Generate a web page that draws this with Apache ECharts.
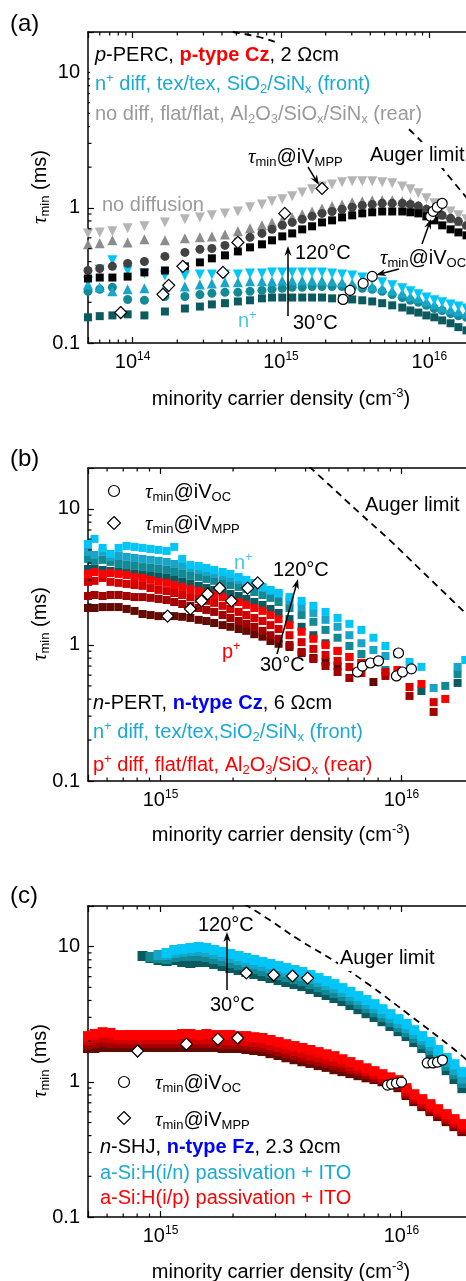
<!DOCTYPE html>
<html><head><meta charset="utf-8">
<script src="https://cdn.jsdelivr.net/npm/echarts@6/dist/echarts.min.js"></script>
<style>html,body{margin:0;padding:0;background:#fff}#c{width:466px;height:1281px}</style>
</head><body><div id="c"></div>
<script>
// ---------------- Panel (a): p-PERC ----------------
const aN = [5.0e13,6.0e13,7.3e13,9.25e13,1.2e14,1.65e14,2.25e14,2.84e14,3.42e14,4.19e14,
 5.12e14,6.18e14,7.44e14,8.7e14,1.02e15,1.19e15,1.39e15,1.62e15,1.89e15,2.21e15,
 2.58e15,3.02e15,3.53e15,4.12e15,4.81e15,5.62e15,6.57e15,7.45e15,8.43e15,9.55e15,
 1.08e16,1.22e16,1.39e16,1.57e16,1.78e16];
const aNoDiff120 = [0.647,0.658,0.67,0.705,0.73,0.78,0.822,0.85,0.88,0.91, 0.94,1.01,1.06,1.12,1.156,1.22,1.30,1.37,1.44,1.49, 1.545,1.57,1.57,1.57,1.545,1.52,1.44,1.37,1.28,1.18, 1.08,1.01,0.94,0.88,0.822];
const aNoDiff90 = [0.537,0.546,0.575,0.555,0.585,0.575,0.595,0.605,0.615,0.636, 0.67,0.705,0.742,0.78,0.808,0.85,0.895,0.94,0.99,1.03, 1.06,1.10,1.12,1.14,1.14,1.14,1.12,1.10,1.04,0.99, 0.94,0.895,0.836,0.795,0.755];
const aNoDiff60 = [0.344,0.356,0.369,0.388,0.401,0.437,0.468,0.493,0.50,0.527, 0.565,0.605,0.647,0.693,0.742,0.78,0.822,0.865,0.91,0.94, 0.975,1.01,1.04,1.06,1.08,1.08,1.08,1.06,1.03,0.975, 0.927,0.88,0.836,0.795,0.742];
const aNoDiff30 = [0.30,0.305,0.305,0.31,0.333,0.344,0.369,0.395,0.423,0.445, 0.476,0.51,0.537,0.575,0.615,0.647,0.693,0.73,0.78,0.808, 0.85,0.88,0.91,0.927,0.94,0.94,0.94,0.927,0.91,0.865, 0.808,0.742,0.693,0.658,0.626];
const aNplus120 = [0.286,0.35,0.41,0.344,0.327,0.316,0.316,0.321,0.321,0.321, 0.321,0.327,0.327,0.333,0.333,0.333,0.333,0.333,0.333,0.327, 0.321,0.316,0.305,0.295,0.281,0.267,0.254,0.241,0.229,0.217, 0.207,0.20,0.193,0.186,0.18];
const aNplus90 = [0.271,0.258,0.241,0.25,0.254,0.258,0.262,0.271,0.276,0.281, 0.281,0.286,0.286,0.286,0.29,0.29,0.29,0.29,0.29,0.286, 0.281,0.276,0.271,0.262,0.254,0.245,0.233,0.221,0.214,0.203, 0.193,0.183,0.177,0.171,0.166];
const aNplus60 = [0.241,0.25,0.258,0.21,0.207,0.221,0.221,0.228,0.233,0.237, 0.237,0.241,0.245,0.25,0.254,0.258,0.258,0.262,0.262,0.262, 0.262,0.258,0.254,0.25,0.241,0.228,0.217,0.207,0.20,0.19, 0.18,0.174,0.165,0.159,0.155];
const aNplus30 = [0.155,0.158,0.16,0.163,0.16,0.171,0.18,0.186,0.193,0.197, 0.203,0.207,0.214,0.217,0.217,0.217,0.217,0.217,0.217,0.214, 0.214,0.21,0.207,0.203,0.197,0.19,0.183,0.174,0.168,0.16, 0.155,0.147,0.14,0.131,0.124];
const aMppN = [8.3e13,1.6e14,1.75e14,2.18e14,4.06e14,5.12e14,1.06e15,1.89e15];
const aMppTau = [0.168,0.229,0.267,0.369,0.333,0.555,0.91,1.39];
const aOcN = [2.62e15,2.92e15,3.58e15,4.12e15,1.02e16,1.06e16,1.13e16,1.22e16];
const aOcTau = [0.21,0.245,0.276,0.311,0.865,0.942,1.01,1.08];
const aAugerN = [4.74e14,8.83e14,1.84e15,3.99e15,7.92e15,1.32e16,1.89e16];
const aAugerTau = [20,17.1,11.6,6.36,3.5,1.77,1.1];

// ---------------- Panel (b): n-PERT ----------------
const bN = [5.0e14,5.32e14,5.75e14,6.2e14,6.7e14,7.23e14,7.8e14,8.42e14,9.09e14,9.81e14,
 1.06e15,1.14e15,1.23e15,1.33e15,1.44e15,1.55e15,1.67e15,1.81e15,1.95e15,2.11e15,
 2.27e15,2.45e15,2.65e15,2.86e15,3.09e15,
 3.43e15,3.85e15,4.31e15,4.84e15,5.43e15,6.08e15,6.82e15,7.65e15,8.58e15,9.62e15,
 1.08e16,1.21e16,1.36e16,1.52e16,1.71e16,1.84e16];
const bNplus120 = [5.53,6.02,5.17,4.67,5.17,5.35,5.26,5.17,5.08,5.0, 4.91,5.26,4.29,3.87,3.81,3.68,3.56,3.44,3.33,3.16, 3.01,2.86,2.67,2.54,2.41, 2.25,2.11,1.94,1.75,1.58,1.43,1.29,1.13,0.983,0.858, 0.75,0.69,null,null,null,0.776];
const bNplus90 = [4.83,4.59,4.83,4.44,4.51,4.44,4.36,4.29,4.22,4.15, 4.08,3.94,3.81,3.68,3.56,3.44,3.33,3.22,3.11,3.01, 2.91,2.76,2.62,2.49,2.37, 2.11,1.90,1.72,1.53,1.36,1.18,1.03,0.919,0.83,null, null,null,0.483,null,0.69,null];
const bNplus60 = [4.29,4.15,4.22,4.08,3.94,3.87,3.81,3.74,3.68,3.62, 3.56,3.44,3.33,3.22,3.16,3.06,2.96,2.86,2.76,2.67, 2.58,2.45,2.33,2.22,2.07, 1.87,1.66,1.48,1.29,1.13,0.983,0.858,0.75,0.655,null, null,null,null,0.50,0.612,null];
const bNplus30 = [3.62,3.62,3.56,3.5,3.44,3.38,3.33,3.27,3.22,3.16, 3.11,3.01,2.91,2.81,2.72,2.62,2.54,2.45,2.37,2.29, 2.18,2.07,1.97,1.84,1.72, 1.55,1.36,1.18,1.03,0.904,0.816,0.738,null,null,null, null,0.459,null,null,0.526,null];
const bPplus120 = [3.33,3.44,3.33,3.38,3.33,3.27,3.16,3.11,3.01,2.91, 2.86,2.76,2.67,2.58,2.49,2.41,2.33,2.25,2.14,2.07, 1.97,1.87,1.78,1.66,1.55, 1.40,1.25,1.11,1.0,0.904,0.816,0.738,null,null,0.655, null,0.517,null,0.401,null,null];
const bPplus90 = [2.91,2.96,3.11,2.91,2.86,2.81,2.76,2.72,2.62,2.54, 2.49,2.41,2.33,2.25,2.18,2.11,2.04,1.94,1.84,1.75, 1.66,1.58,1.50,1.40,1.31, 1.18,1.05,0.935,0.844,0.763,0.689,0.622,null,0.633,null, 0.491,null,0.38,null,null,null];
const bPplus60 = [2.29,2.33,2.29,2.33,2.33,2.29,2.25,2.25,2.22,2.18, 2.14,2.07,2.0,1.94,1.87,1.81,1.75,1.66,1.58,1.50, 1.43,1.36,1.27,1.18,1.11, 1.0,0.889,0.789,0.701,0.633,0.572,null,null,0.592,null, 0.422,null,0.322,null,null,null];
const bPplus30 = [1.87,1.87,1.90,1.90,1.90,1.84,1.78,1.69,1.66,1.63, 1.63,1.63,1.61,1.58,1.53,1.50,1.45,1.40,1.36,1.31, 1.27,1.20,1.15,1.07,1.02, 0.967,0.873,0.803,0.75,0.701,null,null,0.534,null,null, null,null,null,null,null,null];
const bMppN = [1.07e15,1.33e15,1.48e15,1.57e15,1.76e15,1.97e15,2.30e15,2.53e15];
const bMppTau = [1.63,1.84,2.11,2.37,2.62,2.11,2.62,2.86];
const bOcN = [6.57e15,6.89e15,7.43e15,8.03e15,9.72e15,9.53e15,1.01e16,1.10e16];
const bOcTau = [0.633,0.70,0.737,0.763,0.873,0.592,0.633,0.667];
const bAugerN = [4.15e15,5.02e15,6.7e15,8.92e15,1.19e16,1.51e16,1.91e16];
const bAugerTau = [20.4,15.0,9.35,5.92,3.62,2.41,1.61];

// ---------------- Panel (c): n-SHJ ----------------
const cN = [5.0e14,5.32e14,5.75e14,6.2e14,6.7e14,7.23e14,7.8e14,8.42e14,9.09e14,9.81e14,
 1.06e15,1.14e15,1.23e15,1.33e15,1.44e15,1.55e15,1.67e15,1.81e15,1.95e15,2.11e15,
 2.27e15,2.45e15,2.65e15,2.86e15,3.09e15,3.33e15,3.60e15,3.88e15,4.19e15,4.53e15,
 4.89e15,5.27e15,5.69e15,6.14e15,6.63e15,7.16e15,7.73e15,8.34e15,9.0e15,9.72e15,
 1.05e16,1.13e16,1.22e16,1.32e16,1.42e16,1.54e16,1.66e16,1.79e16];
const cIn120 = [null,null,null,null,null,null,null,null,null,null, 8.98,9.45,9.6,9.78,9.95,9.78,9.45,9.14,8.83,8.53, 8.25,7.97,7.70,7.45,7.19,6.95,6.72,6.50,6.17,5.86, 5.57,5.29,4.94,4.62,4.31,4.03,3.76,3.45,3.17,2.91, 2.68,2.41,2.18,1.97,1.72,1.50,1.35,1.18];
const cIn90 = [null,null,null,null,null,null,null,null,null, 8.68,8.68,8.98,9.14,9.3,9.3,9.14,8.83,8.53,8.25, 7.97,7.70,7.45,7.19,6.95,6.72,6.50,6.28,6.07,5.76, 5.48,5.2,4.94,4.62,4.31,4.03,3.76,3.51,3.22,2.96, 2.72,2.50,2.26,2.04,1.84,1.60,1.40,1.22,1.06];
const cIn60 = [null,null,null,null,null,null,null,null, 8.39,8.25,8.11,8.39,8.53,8.53,8.53,8.39,8.11,7.83, 7.57,7.32,7.07,6.83,6.61,6.39,6.17,5.96,5.76,5.57, 5.29,5.02,4.78,4.54,4.31,4.03,3.76,3.51,3.28,3.02, 2.77,2.54,2.33,2.11,1.90,1.72,1.50,1.31,1.14,0.98];
const cIn30 = [null,null,null,null,null,null,null, 8.53,8.25,7.97,7.83,7.97,7.70,7.57,7.70,7.70,7.45, 7.19,6.95,6.72,6.50,6.28,6.07,5.86,5.66,5.48,5.29, 5.11,4.86,4.62,4.39,4.17,3.96,3.70,3.45,3.22,3.02, 2.81,2.59,2.37,2.18,1.97,1.78,1.57,1.40,1.22,1.05, 0.898];
const cIp120 = [2.18,2.26,2.33,2.30,2.22,2.22,2.22,2.22,2.22,2.22, 2.22,2.22,2.26,2.26,2.22,2.26,2.22,2.22,2.22,2.18, 2.18,2.14,2.11,2.04,1.97,1.90,1.84,1.78,1.72,1.66, 1.60,1.55,1.47,1.40,1.33,1.26,1.20,1.14,1.08,1.03, 0.898,0.81,0.745,0.684,0.628,0.577,0.53,0.487];
const cIp90 = [2.04,2.11,2.14,2.11,2.07,2.07,2.07,2.07,2.07,2.07, 2.07,2.07,2.07,2.07,2.07,2.07,2.07,2.04,2.04,2.04, 2.0,1.97,1.94,1.87,1.81,1.75,1.69,1.63,1.57,1.52, 1.47,1.43,1.38,1.31,1.26,1.20,1.14,1.08,1.03,0.978, 0.854,0.77,0.708,0.65,0.597,0.548,0.503,0.462];
const cIp60 = [1.90,1.94,1.97,1.94,1.94,1.94,1.94,1.94,1.94,1.94, 1.94,1.94,1.94,1.94,1.94,1.94,1.94,1.90,1.90,1.90, 1.87,1.84,1.81,1.75,1.69,1.63,1.58,1.52,1.47,1.42, 1.38,1.33,1.29,1.24,1.20,1.14,1.08,1.05,0.995,0.946, 0.824,0.745,0.684,0.628,0.577,0.53,0.486,0.447];
const cIp30 = [1.78,1.78,1.81,1.81,1.81,1.81,1.81,1.81,1.81,1.81, 1.81,1.81,1.81,1.81,1.81,1.81,1.81,1.78,1.78,1.78, 1.75,1.72,1.69,1.63,1.58,1.52,1.47,1.42,1.38,1.33, 1.29,1.24,1.20,1.16,1.12,1.08,1.05,1.01,0.962,0.913, 0.798,0.72,0.661,0.607,0.558,0.512,0.47,0.432];
const cMppN = [2.27e15,2.95e15,3.53e15,4.08e15,8.03e14,1.28e15,1.73e15,2.09e15];
const cMppTau = [6.39,6.17,6.07,5.86,1.69,1.90,2.07,2.11];
const cOcN = [1.28e16,1.35e16,1.41e16,1.48e16,8.75e15,9.1e15,9.53e15,1.0e16];
const cOcTau = [1.38,1.38,1.40,1.45,0.945,0.962,0.978,0.995];
const cAugerN = [2.23e15,2.83e15,3.77e15,5.18e15,7.37e15,1.08e16,1.61e16,1.91e16];
const cAugerTau = [20.7,15.8,11.2,7.97,5.2,3.12,1.81,1.40];

// axis ranges / tick mantissas
const xRanges = [[5e13,2e16],[5e14,2e16],[5e14,2e16]];
const yRange = [0.1, 20];
const minorMantissas = [2,3,4,5,6,7,8,9];

// ---------------- styling ----------------
const F = '"Liberation Sans", Arial, Helvetica, sans-serif';
const GRIDS = [
  {left:88, top:32, width:386, height:311},
  {left:88, top:468, width:386, height:313},
  {left:88, top:906, width:386, height:311}
];
const CY = ['#00c6f8','#19a5c8','#128a96','#0b5a60'];   // 120,90,60,30 °C
const RD = ['#ff0000','#d40000','#a30000','#650a02'];
const GY = ['#b5b5b5','#8c8c8c','#424242','#000000'];
const CYAN_T = '#1aaad2', GRAY_T = '#9a9a9a', RED_T = '#ff0000', BLUE_T = '#0000ff', LC_T = '#4cc3ee';

function tok(color, size, extra){ return Object.assign({fill:color, color:color, fontSize:size, fontFamily:F, lineHeight:24}, extra||{}); }
const SUB = {verticalAlign:'bottom', lineHeight:15};
const SUP = {verticalAlign:'top', lineHeight:12};
const RICH = {
  k: tok('#000',20), ki: tok('#000',20,{fontStyle:'italic'}),
  c: tok(CYAN_T,20), g: tok(GRAY_T,20), r: tok(RED_T,20), lc: tok(LC_T,20),
  rb: tok(RED_T,20,{fontWeight:'bold'}), bb: tok(BLUE_T,20,{fontWeight:'bold'}),
  kS: tok('#000',13,SUB), cS: tok(CYAN_T,13,SUB), gS: tok(GRAY_T,13,SUB), rS: tok(RED_T,13,SUB),
  kP: tok('#000',13,SUP), cP: tok(CYAN_T,13,SUP), rP: tok(RED_T,13,SUP), lcP: tok(LC_T,13,SUP),
  tau: tok('#000',21,{fontStyle:'italic', fontFamily:'"Liberation Serif", "Times New Roman", serif'}),
  big: tok('#000',24,{lineHeight:28})
};

function zip(xs, ys){ const o=[]; for(let i=0;i<xs.length;i++){ if(ys[i]!=null) o.push([xs[i], ys[i]]); } return o; }
function sc(gi, xs, ys, symbol, size, color, rot){
  return {type:'scatter', xAxisIndex:gi, yAxisIndex:gi, data:zip(xs,ys), symbol:symbol, symbolSize:size,
    symbolRotate:rot||0, itemStyle:{color:color, opacity:1}, silent:true, z:2, animation:false,
    emphasis:{disabled:true}};
}
function openMk(gi, xs, ys, symbol, size){
  return {type:'scatter', xAxisIndex:gi, yAxisIndex:gi, data:zip(xs,ys), symbol:symbol, symbolSize:size,
    itemStyle:{color:'#fff', borderColor:'#000', borderWidth:1.2, opacity:1}, silent:true, z:5, animation:false,
    emphasis:{disabled:true}};
}
function auger(gi, xs, ys){
  return {type:'line', xAxisIndex:gi, yAxisIndex:gi, data:zip(xs,ys), symbol:'none', showSymbol:false, smooth:0.4,
    lineStyle:{color:'#000', width:1.8, type:[7,5]}, z:1, silent:true, animation:false};
}
function minorVals(lo, hi){
  const o=[];
  for(let e=Math.floor(Math.log10(lo)); e<=Math.ceil(Math.log10(hi)); e++){
    for(const m of minorMantissas){ const v=m*Math.pow(10,e); if(v>lo*1.0001 && v<hi*0.9999) o.push(v); }
  }
  return o;
}
function xMinor(gi){
  return {type:'custom', xAxisIndex:gi, yAxisIndex:gi, clip:false, silent:true, z:6, animation:false,
    data: minorVals(xRanges[gi][0], xRanges[gi][1]).map(v=>[v,1]),
    renderItem:function(params, api){
      const cs=params.coordSys; const p=api.coord([api.value(0),1]); const b=cs.y+cs.height;
      return {type:'group', children:[
        {type:'line', shape:{x1:p[0],y1:b,x2:p[0],y2:b-3.5}, style:{stroke:'#000',lineWidth:1.2}},
        {type:'line', shape:{x1:p[0],y1:cs.y,x2:p[0],y2:cs.y+3.5}, style:{stroke:'#000',lineWidth:1.2}}]};
    }};
}
function yMinor(gi){
  return {type:'custom', xAxisIndex:gi, yAxisIndex:gi, clip:false, silent:true, z:6, animation:false,
    data: minorVals(yRange[0], yRange[1]).map(v=>[xRanges[gi][0]*2,v]),
    renderItem:function(params, api){
      const cs=params.coordSys; const p=api.coord([api.value(0),api.value(1)]);
      return {type:'line', shape:{x1:cs.x,y1:p[1],x2:cs.x+3.5,y2:p[1]}, style:{stroke:'#000',lineWidth:1.2}};
    }};
}
function isPow(v){ const l=Math.log10(v); return Math.abs(l-Math.round(l))<1e-6; }
function xAx(gi, top){
  return {type:'log', logBase:10, gridIndex:gi, min:xRanges[gi][0], max:xRanges[gi][1], position: top?'top':'bottom',
    axisLine:{show:true, onZero:false, lineStyle:{color:'#000', width:1.5}},
    axisTick:{show:true, inside:true, length:6, lineStyle:{color:'#000', width:1.2}},
    axisLabel:{show:!top, margin:8, color:'#000', fontSize:20, fontFamily:F,
      formatter:function(v){ if(!isPow(v)) return ''; return '{b|10}{s|'+Math.round(Math.log10(v))+'}'; },
      rich:{b:{fontSize:20, fontFamily:F, color:'#000', lineHeight:22}, s:{fontSize:12, fontFamily:F, color:'#000', verticalAlign:'top', lineHeight:10}}},
    splitLine:{show:false}, minorTick:{show:false}, minorSplitLine:{show:false}};
}
function yAx(gi){
  return {type:'log', logBase:10, gridIndex:gi, min:yRange[0], max:yRange[1],
    axisLine:{show:true, onZero:false, lineStyle:{color:'#000', width:1.5}},
    axisTick:{show:true, inside:true, length:6, lineStyle:{color:'#000', width:1.2}},
    axisLabel:{show:true, margin:8, color:'#000', fontSize:20, fontFamily:F,
      formatter:function(v){ if(!isPow(v)) return ''; const e=Math.round(Math.log10(v)); return e<0 ? '0.1' : String(Math.pow(10,e)); }},
    splitLine:{show:false}, minorTick:{show:false}};
}

// ---------------- graphics helpers ----------------
function T(x, y, text, o){
  o = o||{};
  const st = {text:text, fill:'#000', fontSize:20, fontFamily:F, rich:RICH,
    align:o.align||'left', textAlign:o.align||'left', verticalAlign:'middle', textVerticalAlign:'middle'};
  if(o.bg){ st.backgroundColor='#fff'; st.padding=[1,2]; }
  const el = {type:'text', x:x, y:y, z:100, silent:true, style:st};
  if(o.rot) el.rotation=o.rot;
  return el;
}
function arrow(x1,y1,x2,y2){
  const dx=x2-x1, dy=y2-y1, L=Math.hypot(dx,dy), ux=dx/L, uy=dy/L, px=-uy, py=ux;
  const hl=10, hw=3.6, nt=7;
  const bx=x2-ux*hl, by=y2-uy*hl, nx=x2-ux*nt, ny=y2-uy*nt;
  return [
    {type:'line', z:100, silent:true, shape:{x1:x1,y1:y1,x2:nx,y2:ny}, style:{stroke:'#000', lineWidth:1.5}},
    {type:'polygon', z:100, silent:true, shape:{points:[[x2,y2],[bx+px*hw,by+py*hw],[nx,ny],[bx-px*hw,by-py*hw]]}, style:{fill:'#000'}}
  ];
}
function legCircle(x,y){ return {type:'circle', z:100, silent:true, shape:{cx:x,cy:y,r:5.5}, style:{fill:'#fff', stroke:'#000', lineWidth:1.2}}; }
function legDiamond(x,y){ const s=6.5; return {type:'polygon', z:100, silent:true, shape:{points:[[x,y-s],[x+s,y],[x,y+s],[x-s,y]]}, style:{fill:'#fff', stroke:'#000', lineWidth:1.2}}; }
const TAU_OC = '{tau|τ}{kS|min}{k|@iV}{kS|OC}';
const TAU_MPP = '{tau|τ}{kS|min}{k|@iV}{kS|MPP}';
const XTITLE = '{k|minority carrier density (cm}{kP|-3}{k|)}';
const YTITLE = '{tau|τ}{kS|min}{k| (ms)}';

const graphics = [].concat(
  // panel (a)
  [T(10,24,'{big|(a)}'),
   {type:'rect', z:50, silent:true, shape:{x:90,y:43,width:345,height:85}, style:{fill:'#fff'}},
   T(95,55,'{ki|p}{k|-PERC, }{rb|p-type Cz}{k|, 2 Ωcm}'),
   T(95,84,'{c|n}{cP|+}{c| diff, tex/tex, SiO}{cS|2}{c|/SiN}{cS|x}{c| (front)}'),
   T(95,114,'{g|no diff, flat/flat, Al}{gS|2}{g|O}{gS|3}{g|/SiO}{gS|x}{g|/SiN}{gS|x}{g| (rear)}'),
   T(248,157,TAU_MPP),
   T(368,155,'{k|Auger limit}',{bg:true}),
   T(102,205,'{g|no diffusion}'),
   T(295,253,'{k|120°C}'),
   T(293,323,'{k|30°C}'),
   T(380,258,TAU_OC),
   T(238,321,'{lc|n}{lcP|+}'),
   T(40,187,YTITLE,{align:'center',rot:Math.PI/2}),
   T(281,399,XTITLE,{align:'center'})],
  arrow(308,167,319,185), arrow(288,316,288,246), arrow(399,269,376,275), arrow(422,244,431,219),
  // panel (b)
  [T(10,459,'{big|(b)}'),
   legCircle(114,491), T(145,492,TAU_OC),
   legDiamond(114,523), T(145,524,TAU_MPP),
   T(365,505,'{k|Auger limit}'),
   T(234,563,'{lc|n}{lcP|+}'),
   T(273,570,'{k|120°C}'),
   T(222,652,'{r|p}{rP|+}'),
   T(260,665,'{k|30°C}'),
   T(93,703,'{ki|n}{k|-PERT, }{bb|n-type Cz}{k|, 6 Ωcm}'),
   T(93,732,'{c|n}{cP|+}{c| diff, tex/tex,SiO}{cS|2}{c|/SiN}{cS|x}{c| (front)}'),
   T(93,765,'{r|p}{rP|+}{r| diff, flat/flat, Al}{rS|2}{r|O}{rS|3}{r|/SiO}{rS|x}{r| (rear)}'),
   T(40,624,YTITLE,{align:'center',rot:Math.PI/2}),
   T(281,835,XTITLE,{align:'center'})],
  arrow(277,654,298,579),
  // panel (c)
  [T(10,896,'{big|(c)}'),
   T(198,925,'{k|120°C}'),
   T(210,1005,'{k|30°C}'),
   T(338,958,'{k|Auger limit}',{bg:true}),
   legCircle(124,1082), T(155,1083,TAU_OC),
   legDiamond(124,1118), T(155,1120,TAU_MPP),
   T(100,1147,'{ki|n}{k|-SHJ, }{bb|n-type Fz}{k|, 2.3 Ωcm}'),
   T(100,1173,'{c|a-Si:H(i/n) passivation + ITO}'),
   T(100,1198,'{r|a-Si:H(i/p) passivation + ITO}'),
   T(40,1061,YTITLE,{align:'center',rot:Math.PI/2}),
   T(281,1272,XTITLE,{align:'center'})],
  arrow(227,990,227,932)
);

const series = [
  // (a) cyan n+ group
  sc(0,aN,aNplus30,'rect',8,CY[3]), sc(0,aN,aNplus60,'circle',9,CY[2]),
  sc(0,aN,aNplus90,'triangle',10,CY[1]), sc(0,aN,aNplus120,'triangle',10,CY[0],180),
  // (a) gray no-diffusion group
  sc(0,aN,aNoDiff120,'triangle',10,GY[0],180), sc(0,aN,aNoDiff90,'triangle',10,GY[1]),
  sc(0,aN,aNoDiff60,'circle',9,GY[2]), sc(0,aN,aNoDiff30,'rect',8,GY[3]),
  openMk(0,aMppN,aMppTau,'diamond',12), openMk(0,aOcN,aOcTau,'circle',10),
  auger(0,aAugerN,aAugerTau), xMinor(0), yMinor(0),
  // (b)
  sc(1,bN,bNplus30,'rect',8,CY[3]), sc(1,bN,bNplus60,'rect',8,CY[2]), sc(1,bN,bNplus90,'rect',8,CY[1]), sc(1,bN,bNplus120,'rect',8,CY[0]),
  sc(1,bN,bPplus30,'rect',8,RD[3]), sc(1,bN,bPplus60,'rect',8,RD[2]), sc(1,bN,bPplus90,'rect',8,RD[1]), sc(1,bN,bPplus120,'rect',8,RD[0]),
  openMk(1,bMppN,bMppTau,'diamond',12), openMk(1,bOcN,bOcTau,'circle',10),
  auger(1,bAugerN,bAugerTau), xMinor(1), yMinor(1),
  // (c)
  sc(2,cN,cIn30,'rect',10,CY[3]), sc(2,cN,cIn60,'rect',10,CY[2]), sc(2,cN,cIn90,'rect',10,CY[1]), sc(2,cN,cIn120,'rect',10,CY[0]),
  sc(2,cN,cIp30,'rect',10,RD[3]), sc(2,cN,cIp60,'rect',10,RD[2]), sc(2,cN,cIp90,'rect',10,RD[1]), sc(2,cN,cIp120,'rect',10,RD[0]),
  openMk(2,cMppN,cMppTau,'diamond',12), openMk(2,cOcN,cOcTau,'circle',10),
  auger(2,cAugerN,cAugerTau), xMinor(2), yMinor(2)
];

const chart = echarts.init(document.getElementById('c'), null, {renderer:'canvas', width:466, height:1281});
chart.setOption({
  animation:false,
  backgroundColor:'#fff',
  grid: GRIDS.map(g=>Object.assign({show:false, containLabel:false, outerBoundsMode:'none'}, g)),
  xAxis: [xAx(0,false), xAx(1,false), xAx(2,false), xAx(0,true), xAx(1,true), xAx(2,true)],
  yAxis: [yAx(0), yAx(1), yAx(2)],
  series: series,
  graphic: {elements: graphics}
});
</script>
</body></html>
